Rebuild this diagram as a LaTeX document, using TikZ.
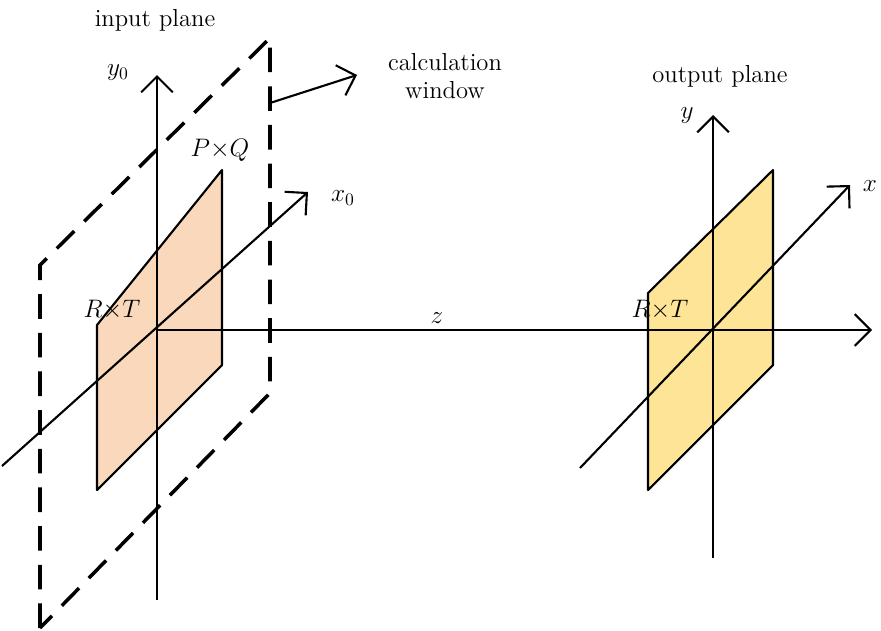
\documentclass[tikz,border=0pt]{standalone}
\usetikzlibrary{arrows.meta}
\definecolor{peach}{RGB}{249,216,187}
\definecolor{ylw}{RGB}{254,228,150}
\begin{document}
\begin{tikzpicture}[x=0.02cm,y=-0.02cm,
  ax/.style={line width=1.2pt,-{Straight Barb[length=9pt,width=18pt,line width=1.2pt]}},
  patch/.style={line width=1.2pt,line join=round},
  lbl/.style={font=\fontsize{14}{16}\selectfont,inner sep=0pt}]
\useasboundingbox (0,0) rectangle (881,630);
% input dashed window
\draw[line width=2pt,dash pattern=on 14pt off 8pt] (40,628) -- (40,265) -- (270,38) -- (270,393) -- cycle;
% patches
\draw[patch,fill=peach] (97,325) -- (222,170) -- (222,365) -- (97,490) -- cycle;
\draw[patch,fill=ylw] (648,293) -- (773,170) -- (773,365) -- (648,490) -- cycle;
% coordinates
\coordinate (o0) at (157,330);
\coordinate (y0b) at (157,600); \coordinate (y0t) at (157,75);
\coordinate (x0b) at (2,466); \coordinate (x0t) at (308,192);
\coordinate (ze) at (872,330);
\coordinate (yb) at (713,558); \coordinate (yt) at (713,115);
\coordinate (xb) at (580,468); \coordinate (xt) at (850,185);
\coordinate (cw0) at (270,103); \coordinate (cw1) at (357,75);
\draw[ax] (y0b) -- (y0t);
\draw[ax] (x0b) -- (x0t);
\draw[ax] (o0) -- (ze);
\draw[ax] (yb) -- (yt);
\draw[ax] (xb) -- (xt);
\draw[ax] (cw0) -- (cw1);
% labels
\node[lbl] (ip) at (155,20) {input plane};
\node[lbl] (ly0) at (118,73) {$y_0$};
\node[lbl] (lx0) at (343,198) {$x_0$};
\node[lbl] (lz) at (437,318) {$z$};
\node[lbl,align=center] (cw) at (445,76) {calculation\\window};
\node[lbl] (pq) at (220,150) {$P{\times}Q$};
\node[lbl] (rt1) at (112,310) {$R{\times}T$};
\node[lbl] (op) at (720,76) {output plane};
\node[lbl] (ly) at (687,116) {$y$};
\node[lbl] (lx) at (870,186) {$x$};
\node[lbl] (rt2) at (660,310) {$R{\times}T$};
\end{tikzpicture}
\end{document}
